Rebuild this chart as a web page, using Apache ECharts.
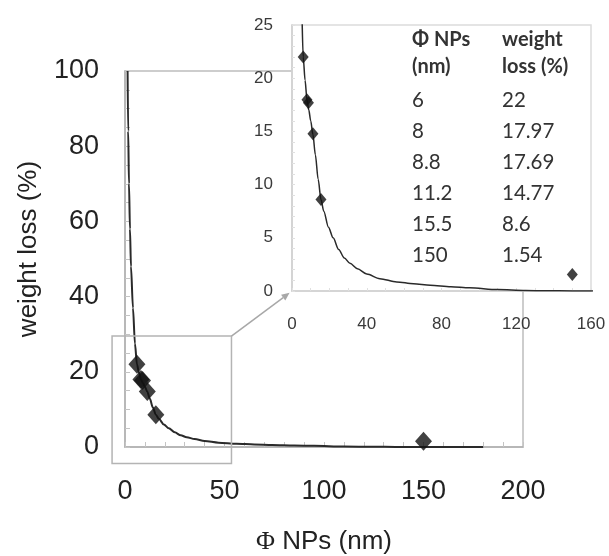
<!DOCTYPE html>
<html>
<head>
<meta charset="utf-8">
<script src="https://cdn.jsdelivr.net/npm/echarts@6/dist/echarts.min.js"></script>
<style>
  html, body { margin: 0; padding: 0; background: #fff; }
  #chart { width: 609px; height: 556px; }
</style>
</head>
<body>
<div id="chart"></div>
<script>
  // measured points (same values as the table in the inset)
  var sizeNm = [6, 8, 8.8, 11.2, 15.5, 150];
  var lossPct = [22, 17.97, 17.69, 14.77, 8.6, 1.54];

  // trend line
  var fitX = [1.3, 1.6, 2, 2.5, 3, 4, 5, 6, 7, 8, 9, 10, 11.2, 12.5, 14, 15.5, 17, 19.5, 22, 25,
              28, 31, 35, 40, 47, 56, 65, 74, 85, 95, 110, 125, 136, 150, 165, 180];
  var fitY = [100, 84, 70, 58, 48, 37, 27.5, 22, 19.8, 18, 17, 16, 14.7, 12.8, 10.5, 8.6, 7.5, 6.0, 5.0, 3.9,
              3.1, 2.6, 2.1, 1.6, 1.16, 0.85, 0.68, 0.54, 0.4, 0.3, 0.13, 0.05, 0.02, 0.01, 0, 0];

  // table headers
  var colHead1 = ['Φ NPs', '(nm)'];
  var colHead2 = ['weight', 'loss (%)'];

  // zoom box on the main plot, data units
  var zoomBoxX = [-6.5, 53.5];
  var zoomBoxY = [-4.4, 29.5];

  var pts = sizeNm.map(function (x, i) { return [x, lossPct[i]]; });
  var fit = fitX.map(function (x, i) { return [x, fitY[i]]; });

  var FONT = 'Liberation Sans';
  var chart = echarts.init(document.getElementById('chart'));

  chart.setOption({
    animation: false,
    backgroundColor: '#fff',
    grid: [{
      left: 125, top: 71, width: 398, height: 376,
      show: true, borderColor: '#bdbdbd', borderWidth: 1.5,
      z: 0, outerBoundsMode: 'none'
    }, {
      left: 292, top: 25, width: 299, height: 266,
      show: true, backgroundColor: '#fff', borderColor: '#dcdcdc', borderWidth: 1.5,
      z: 10, outerBoundsMode: 'none'
    }],
    xAxis: [{
      gridIndex: 0, type: 'value', min: 0, max: 200, interval: 50, z: 1,
      name: '{phi|Φ} NPs (nm)', nameLocation: 'middle', nameGap: 82,
      nameTextStyle: {
        fontFamily: FONT, fontSize: 26, color: '#222',
        rich: { phi: { fontFamily: 'Liberation Serif', fontSize: 26, color: '#222' } }
      },
      axisLine: { lineStyle: { color: '#b0b0b0', width: 1.5 } },
      axisTick: { inside: true, length: 5, lineStyle: { color: '#c4c4c4' } },
      minorTick: { show: true, splitNumber: 5, length: 5, lineStyle: { color: '#c4c4c4' } },
      splitLine: { show: false },
      axisLabel: { fontFamily: FONT, fontSize: 27, color: '#222', margin: 31 }
    }, {
      gridIndex: 1, type: 'value', min: 0, max: 160, interval: 40, z: 11,
      axisLine: { lineStyle: { color: '#cfcfcf', width: 1.5 } },
      axisTick: { inside: true, length: 3, lineStyle: { color: '#e0e0e0' } },
      minorTick: { show: true, splitNumber: 4, length: 3, lineStyle: { color: '#e0e0e0' } },
      splitLine: { show: false },
      axisLabel: { fontFamily: FONT, fontSize: 17, color: '#3a3a3a', margin: 25 }
    }],
    yAxis: [{
      gridIndex: 0, type: 'value', min: 0, max: 100, interval: 20, z: 1,
      name: 'weight loss (%)', nameLocation: 'middle', nameGap: 83,
      nameTextStyle: { fontFamily: FONT, fontSize: 26, color: '#222', padding: [0, 0, 0, 20] },
      axisLine: { show: true, lineStyle: { color: '#b0b0b0', width: 1.5 } },
      axisTick: { show: true, inside: true, length: 5, lineStyle: { color: '#c4c4c4' } },
      minorTick: { show: true, splitNumber: 4, length: 5, lineStyle: { color: '#c4c4c4' } },
      splitLine: { show: false },
      axisLabel: { fontFamily: FONT, fontSize: 27, color: '#222', margin: 26 }
    }, {
      gridIndex: 1, type: 'value', min: 0, max: 25, interval: 5, z: 11,
      axisLine: { show: true, lineStyle: { color: '#cfcfcf', width: 1.5 } },
      axisTick: { show: true, inside: true, length: 3, lineStyle: { color: '#e0e0e0' } },
      minorTick: { show: true, splitNumber: 5, length: 3, lineStyle: { color: '#e0e0e0' } },
      splitLine: { show: false },
      axisLabel: { fontFamily: FONT, fontSize: 17, color: '#3a3a3a', margin: 19 }
    }],
    series: [{
      type: 'line', xAxisIndex: 0, yAxisIndex: 0, data: fit, z: 2,
      showSymbol: false, smooth: 0.3, smoothMonotone: 'x',
      lineStyle: { color: '#2a2a2a', width: 2 }
    }, {
      type: 'scatter', xAxisIndex: 0, yAxisIndex: 0, data: pts, z: 3,
      symbol: 'diamond', symbolSize: [17, 19],
      itemStyle: { color: '#111' }
    }, {
      type: 'line', xAxisIndex: 1, yAxisIndex: 1, data: fit, z: 12,
      showSymbol: false, smooth: 0.3, smoothMonotone: 'x',
      lineStyle: { color: '#2a2a2a', width: 1.5 }
    }, {
      type: 'scatter', xAxisIndex: 1, yAxisIndex: 1, data: pts, z: 13,
      symbol: 'diamond', symbolSize: [11, 13],
      itemStyle: { color: '#111' }
    }]
  });

  // zoom box, connector arrow and the little table
  var p0 = chart.convertToPixel({ gridIndex: 0 }, [zoomBoxX[0], zoomBoxY[1]]);
  var p1 = chart.convertToPixel({ gridIndex: 0 }, [zoomBoxX[1], zoomBoxY[0]]);
  var tip = chart.convertToPixel({ gridIndex: 1 }, [0, 0]);
  var from = [p1[0], p0[1]];
  var dx = tip[0] - from[0], dy = tip[1] - from[1];
  var len = Math.sqrt(dx * dx + dy * dy);
  var ux = dx / len, uy = dy / len;
  var end = [tip[0] - ux * 3, tip[1] - uy * 3];
  var back = [end[0] - ux * 8, end[1] - uy * 8];
  var head = [end, [back[0] - uy * 3.5, back[1] + ux * 3.5], [back[0] + uy * 3.5, back[1] - ux * 3.5]];

  var tableText = [];
  var col1 = 412, col2 = 502;
  var rowY = [40, 67];
  colHead1.forEach(function (t, i) {
    tableText.push({ type: 'text', x: col1, y: rowY[i], z: 20,
      style: { text: t, fontFamily: 'Lato', fontWeight: 'bold', fontSize: 20, fill: '#333', verticalAlign: 'middle' } });
    tableText.push({ type: 'text', x: col2, y: rowY[i], z: 20,
      style: { text: colHead2[i], fontFamily: 'Lato', fontWeight: 'bold', fontSize: 20, fill: '#333', verticalAlign: 'middle' } });
  });
  sizeNm.forEach(function (v, i) {
    var y = 100 + i * 31;
    tableText.push({ type: 'text', x: col1, y: y, z: 20,
      style: { text: String(v), fontFamily: 'Lato', fontSize: 20.5, fill: '#333', verticalAlign: 'middle' } });
    tableText.push({ type: 'text', x: col2, y: y, z: 20,
      style: { text: String(lossPct[i]), fontFamily: 'Lato', fontSize: 20.5, fill: '#333', verticalAlign: 'middle' } });
  });

  chart.setOption({
    graphic: [{
      type: 'rect', z: 5,
      shape: { x: p0[0], y: p0[1], width: p1[0] - p0[0], height: p1[1] - p0[1] },
      style: { fill: 'none', stroke: '#b4b4b4', lineWidth: 1.5 }
    }, {
      type: 'line', z: 20,
      shape: { x1: from[0], y1: from[1], x2: back[0], y2: back[1] },
      style: { stroke: '#a8a8a8', lineWidth: 1.5 }
    }, {
      type: 'polygon', z: 20,
      shape: { points: head },
      style: { fill: '#a8a8a8' }
    }].concat(tableText)
  });
</script>
</body>
</html>
